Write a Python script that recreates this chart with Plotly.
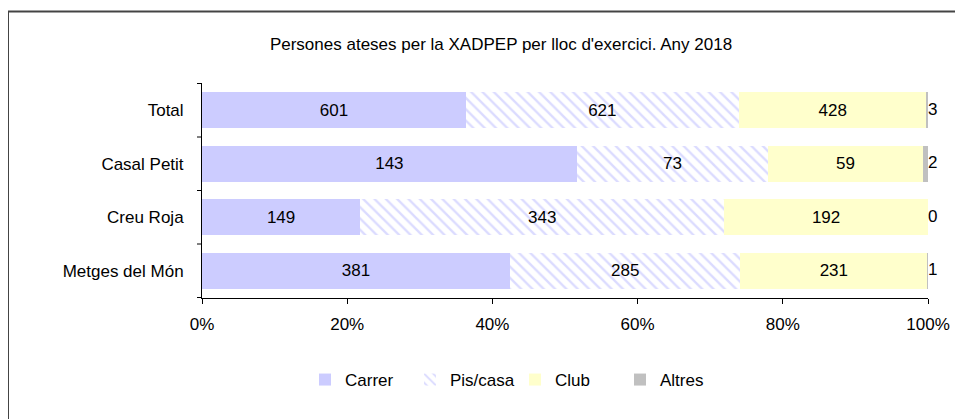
import plotly.graph_objects as go

categories = ["Total", "Casal Petit", "Creu Roja", "Metges del Món"]
carrer = [601, 143, 149, 381]
pis_casa = [621, 73, 343, 285]
club = [428, 59, 192, 231]
altres = [3, 2, 0, 1]
tick_vals = [0, 20, 40, 60, 80, 100]
tick_text = ["0%", "20%", "40%", "60%", "80%", "100%"]
title = "Persones ateses per la XADPEP per lloc d'exercici. Any 2018"

FS = 17
font = dict(family="Liberation Sans, Arial, sans-serif", size=FS, color="#000000")

fig = go.Figure()
fig.add_trace(go.Bar(y=categories, x=carrer, name="Carrer", orientation="h",
                     marker=dict(color="#CCCCFF", line=dict(width=0)),
                     text=carrer, textposition="inside", insidetextanchor="middle",
                     textfont=font))
fig.add_trace(go.Bar(y=categories, x=pis_casa, name="Pis/casa", orientation="h",
                     marker=dict(color="#FFFFFF", line=dict(width=0),
                                 pattern=dict(shape="\\", fgcolor="#B8B8FF", bgcolor="#FFFFFF",
                                              size=8, solidity=0.3)),
                     text=pis_casa, textposition="inside", insidetextanchor="middle",
                     textfont=font))
fig.add_trace(go.Bar(y=categories, x=club, name="Club", orientation="h",
                     marker=dict(color="#FFFFCC", line=dict(width=0)),
                     text=club, textposition="inside", insidetextanchor="middle",
                     textfont=font))
fig.add_trace(go.Bar(y=categories, x=altres, name="Altres", orientation="h",
                     marker=dict(color="#C0C0C0", line=dict(width=0)),
                     textposition="none"))
# labels for the "Altres" segment, placed at the end of each 100% bar
fig.add_trace(go.Scatter(y=categories, x=[100] * len(categories), mode="text",
                         text=[str(v) for v in altres], textposition="middle right",
                         textfont=font, showlegend=False, hoverinfo="skip",
                         cliponaxis=False))

W, H = 955, 411
L, R, T, B = 194, 35, 75, 121
pw, ph = W - L - R, H - T - B

fig.update_layout(
    barmode="stack", barnorm="percent", bargap=0.33,
    width=W, height=H,
    margin=dict(l=L, r=R, t=T, b=B, autoexpand=False),
    paper_bgcolor="white", plot_bgcolor="white",
    font=font,
    uniformtext=dict(minsize=FS, mode="show"),
    title=dict(text=title, xref="container", x=493 / W, xanchor="center",
               y=1 - 36 / H, yanchor="middle", font=font),
    xaxis=dict(range=[0, 100], tickvals=tick_vals, ticktext=tick_text,
               showgrid=False, zeroline=False, showline=True, linecolor="#000",
               linewidth=1, ticks="outside", ticklen=5, tickcolor="#000",
               tickfont=font, automargin=False, ticklabelstandoff=6),
    yaxis=dict(categoryorder="array", categoryarray=categories[::-1],
               showgrid=False, zeroline=False, showline=True, linecolor="#000",
               linewidth=1, ticks="", ticklen=0, tickfont=font,
               ticklabelstandoff=14, automargin=False),
    legend=dict(orientation="h", x=(305 - 8 - L) / pw, xanchor="left",
                y=(H - B - (380 - 8)) / ph, yanchor="middle",
                font=font, entrywidth=60, entrywidthmode="pixels", traceorder="normal"),
    shapes=[dict(type="rect", xref="paper", yref="paper",
                 x0=(0 - L) / pw, x1=(W + 20 - L) / pw,
                 y0=(H - B - (H + 20)) / ph, y1=(H - B - 3.5) / ph,
                 line=dict(color="#444444", width=2), layer="below")]
)

# tick marks on y axis between categories
for yv in [-0.5, 0.5, 1.5, 2.5, 3.5]:
    fig.add_shape(type="line", xref="paper", yref="y", x0=-5 / pw, x1=0, y0=yv, y1=yv,
                  line=dict(color="#000", width=1))

fig.write_html("out.html")
